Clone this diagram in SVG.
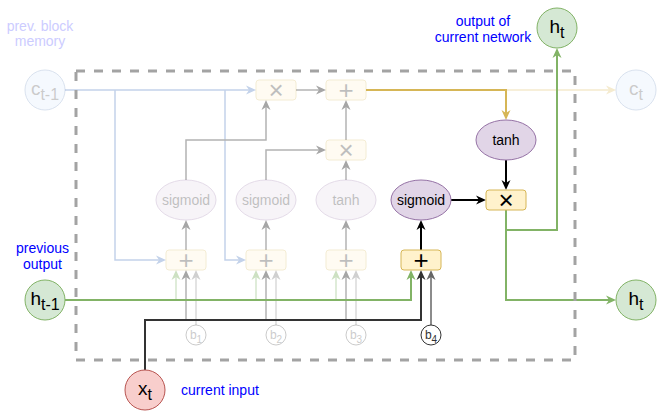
<svg xmlns="http://www.w3.org/2000/svg" width="661" height="416" viewBox="0 0 661 416">
<style>
text{font-family:"Liberation Sans",Arial,Helvetica,sans-serif}
.t14{font-size:14px}
.big{font-size:19px}
.sub{font-size:16px}
.bl{font-size:12px}
.bs{font-size:10px}
.op{font-size:26px}
.box{fill:#fff2cc;stroke:#d6b656;stroke-width:1}
.ell{fill:#e1d5e7;stroke:#9673a6;stroke-width:1}
.grn{fill:#d5e8d4;stroke:#82b366;stroke-width:1}
.blu{fill:#dae8fc;stroke:#6c8ebf;stroke-width:1}
.red{fill:#f8cecc;stroke:#b85450;stroke-width:1}
.fade{opacity:0.25}
.ln{fill:none}
</style>
<defs>
<marker id="m-black" viewBox="0 0 10 10" refX="3" refY="5" markerWidth="10" markerHeight="10" markerUnits="userSpaceOnUse" orient="auto"><path d="M0,0.5 L10,5 L0,9.5 L3,5 Z" fill="#000"/></marker>
<marker id="m-dark" viewBox="0 0 10 10" refX="3" refY="5" markerWidth="10" markerHeight="10" markerUnits="userSpaceOnUse" orient="auto"><path d="M0,0.5 L10,5 L0,9.5 L3,5 Z" fill="#333"/></marker>
<marker id="m-mid" viewBox="0 0 10 10" refX="3" refY="5" markerWidth="10" markerHeight="10" markerUnits="userSpaceOnUse" orient="auto"><path d="M0,0.5 L10,5 L0,9.5 L3,5 Z" fill="#666"/></marker>
<marker id="m-green" viewBox="0 0 10 10" refX="3" refY="5" markerWidth="10" markerHeight="10" markerUnits="userSpaceOnUse" orient="auto"><path d="M0,0.5 L10,5 L0,9.5 L3,5 Z" fill="#82b366"/></marker>
<marker id="m-fgreen" viewBox="0 0 10 10" refX="3" refY="5" markerWidth="10" markerHeight="10" markerUnits="userSpaceOnUse" orient="auto"><path d="M0,0.5 L10,5 L0,9.5 L3,5 Z" fill="#cde1c2"/></marker>
<marker id="m-gray" viewBox="0 0 10 10" refX="3" refY="5" markerWidth="10" markerHeight="10" markerUnits="userSpaceOnUse" orient="auto"><path d="M0,0.5 L10,5 L0,9.5 L3,5 Z" fill="#a6a6a6"/></marker>
<marker id="m-lgray" viewBox="0 0 10 10" refX="3" refY="5" markerWidth="10" markerHeight="10" markerUnits="userSpaceOnUse" orient="auto"><path d="M0,0.5 L10,5 L0,9.5 L3,5 Z" fill="#d0d0d0"/></marker>
<marker id="m-blue" viewBox="0 0 10 10" refX="3" refY="5" markerWidth="10" markerHeight="10" markerUnits="userSpaceOnUse" orient="auto"><path d="M0,0.5 L10,5 L0,9.5 L3,5 Z" fill="#c3d2ea"/></marker>
<marker id="m-yellow" viewBox="0 0 10 10" refX="3" refY="5" markerWidth="10" markerHeight="10" markerUnits="userSpaceOnUse" orient="auto"><path d="M0,0.5 L10,5 L0,9.5 L3,5 Z" fill="#d6b656"/></marker>
<marker id="m-fyellow" viewBox="0 0 10 10" refX="3" refY="5" markerWidth="10" markerHeight="10" markerUnits="userSpaceOnUse" orient="auto"><path d="M0,0.5 L10,5 L0,9.5 L3,5 Z" fill="#f5ebcf"/></marker>
</defs>
<rect width="661" height="416" fill="#fff"/>

<g id="connectors" class="ln">
  <g stroke="#c3d2ea" stroke-width="1.5" fill="none">
    <path d="M65,90 H249" marker-end="url(#m-blue)"/>
    <path d="M115,90 V260 H159" marker-end="url(#m-blue)"/>
    <path d="M225,90 V260 H239" marker-end="url(#m-blue)"/>
  </g>
  <g stroke="#b3b3b3" stroke-width="1.5" fill="none" marker-end="url(#m-gray)">
    <path d="M296,90 H319"/>
    <path d="M186,180 V140 H266 V107"/>
    <path d="M266,180 V150 H319"/>
    <path d="M346,180 V167"/>
    <path d="M346,140 V107"/>
    <path d="M186,250 V227"/>
    <path d="M266,250 V227"/>
    <path d="M346,250 V227"/>
    <path d="M186,320 V277"/>
    <path d="M266,320 V277"/>
    <path d="M346,320 V277"/>
  </g>
  <g stroke="#dadada" stroke-width="1.5" fill="none" marker-end="url(#m-lgray)">
    <path d="M196,325 V277"/>
    <path d="M276,325 V277"/>
    <path d="M356,325 V277"/>
  </g>
  <g stroke="#d5e6cc" stroke-width="1.5" fill="none" marker-end="url(#m-fgreen)">
    <path d="M176,300 V277"/>
    <path d="M256,300 V277"/>
    <path d="M336,300 V277"/>
  </g>
  <path d="M506,90 H609" stroke="#f7efd9" stroke-width="2" fill="none" marker-end="url(#m-fyellow)"/>
  <path d="M366,90 H506 V113" stroke="#d6b656" stroke-width="2" fill="none" marker-end="url(#m-yellow)"/>
  <path d="M506,160 V183" stroke="#000" stroke-width="2" fill="none" marker-end="url(#m-black)"/>
  <path d="M451,200 H479" stroke="#000" stroke-width="2" fill="none" marker-end="url(#m-black)"/>
  <path d="M421,250 V227" stroke="#000" stroke-width="2" fill="none" marker-end="url(#m-black)"/>
  <path d="M506,210 V230 H557 V55" stroke="#82b366" stroke-width="2" fill="none" marker-end="url(#m-green)"/>
  <path d="M506,210 V300 H609" stroke="#82b366" stroke-width="2" fill="none" marker-end="url(#m-green)"/>
  <path d="M65,300 H411 V277" stroke="#82b366" stroke-width="2" fill="none" marker-end="url(#m-green)"/>
  <path d="M145,370 V320 H421 V277" stroke="#333" stroke-width="2" fill="none" marker-end="url(#m-dark)"/>
  <path d="M431,325 V277" stroke="#666" stroke-width="1.5" fill="none" marker-end="url(#m-mid)"/>
</g>

<rect id="lstm-block" x="76" y="71" width="499" height="289" fill="none" stroke="#a3a3a3" stroke-width="3" stroke-dasharray="9 9"/>

<g id="c_prev" class="fade">
  <circle cx="45" cy="90" r="20" class="blu"/>
  <text x="45" y="95" text-anchor="middle" class="big" fill="#333">c<tspan class="sub" dy="5">t-1</tspan></text>
</g>
<g id="c_t" class="fade">
  <circle cx="636" cy="90" r="20" class="blu"/>
  <text x="636" y="95" text-anchor="middle" class="big" fill="#333">c<tspan class="sub" dy="5">t</tspan></text>
</g>
<g id="h_out_top">
  <circle cx="557" cy="28" r="20" class="grn"/>
  <text x="557" y="33" text-anchor="middle" class="big" fill="#000">h<tspan class="sub" dy="5">t</tspan></text>
</g>
<g id="h_out_right">
  <circle cx="636" cy="300" r="20" class="grn"/>
  <text x="636" y="305" text-anchor="middle" class="big" fill="#000">h<tspan class="sub" dy="5">t</tspan></text>
</g>
<g id="h_prev">
  <circle cx="45" cy="300" r="20" class="grn"/>
  <text x="45" y="305" text-anchor="middle" class="big" fill="#000">h<tspan class="sub" dy="5">t-1</tspan></text>
</g>
<g id="x_t">
  <circle cx="145" cy="390" r="20" class="red"/>
  <text x="145" y="395" text-anchor="middle" class="big" fill="#000">x<tspan class="sub" dy="5">t</tspan></text>
</g>

<g id="mul_forget" class="fade">
  <rect x="256" y="80" width="40" height="20" rx="3" class="box"/>
  <text x="276" y="99" text-anchor="middle" class="op" fill="#000">×</text>
</g>
<g id="add_cell" class="fade">
  <rect x="326" y="80" width="40" height="20" rx="3" class="box"/>
  <text x="346" y="99" text-anchor="middle" class="op" fill="#000">+</text>
</g>
<g id="mul_input" class="fade">
  <rect x="326" y="140" width="40" height="20" rx="3" class="box"/>
  <text x="346" y="159" text-anchor="middle" class="op" fill="#000">×</text>
</g>
<g id="add_1" class="fade">
  <rect x="166" y="250" width="40" height="20" rx="3" class="box"/>
  <text x="186" y="269" text-anchor="middle" class="op" fill="#000">+</text>
</g>
<g id="add_2" class="fade">
  <rect x="246" y="250" width="40" height="20" rx="3" class="box"/>
  <text x="266" y="269" text-anchor="middle" class="op" fill="#000">+</text>
</g>
<g id="add_3" class="fade">
  <rect x="326" y="250" width="40" height="20" rx="3" class="box"/>
  <text x="346" y="269" text-anchor="middle" class="op" fill="#000">+</text>
</g>
<g id="add_4">
  <rect x="401" y="250" width="40" height="20" rx="3" class="box"/>
  <text x="421" y="269" text-anchor="middle" class="op" fill="#000">+</text>
</g>
<g id="mul_out">
  <rect x="486" y="190" width="40" height="20" rx="3" class="box"/>
  <text x="506" y="209" text-anchor="middle" class="op" fill="#000">×</text>
</g>

<g id="sigmoid_1" class="fade">
  <ellipse cx="186" cy="200" rx="30" ry="20" class="ell"/>
  <text x="186" y="205" text-anchor="middle" class="t14" fill="#000">sigmoid</text>
</g>
<g id="sigmoid_2" class="fade">
  <ellipse cx="266" cy="200" rx="30" ry="20" class="ell"/>
  <text x="266" y="205" text-anchor="middle" class="t14" fill="#000">sigmoid</text>
</g>
<g id="tanh_1" class="fade">
  <ellipse cx="346" cy="200" rx="30" ry="20" class="ell"/>
  <text x="346" y="205" text-anchor="middle" class="t14" fill="#000">tanh</text>
</g>
<g id="sigmoid_4">
  <ellipse cx="421" cy="200" rx="30" ry="20" class="ell"/>
  <text x="421" y="205" text-anchor="middle" class="t14" fill="#000">sigmoid</text>
</g>
<g id="tanh_out">
  <ellipse cx="506" cy="140" rx="30" ry="20" class="ell"/>
  <text x="506" y="145" text-anchor="middle" class="t14" fill="#000">tanh</text>
</g>

<g id="b1" class="fade">
  <circle cx="196" cy="335" r="10" fill="#fff" stroke="#333"/>
  <text x="196" y="339" text-anchor="middle" class="bl" fill="#333">b<tspan class="bs" dy="4">1</tspan></text>
</g>
<g id="b2" class="fade">
  <circle cx="276" cy="335" r="10" fill="#fff" stroke="#333"/>
  <text x="276" y="339" text-anchor="middle" class="bl" fill="#333">b<tspan class="bs" dy="4">2</tspan></text>
</g>
<g id="b3" class="fade">
  <circle cx="356" cy="335" r="10" fill="#fff" stroke="#333"/>
  <text x="356" y="339" text-anchor="middle" class="bl" fill="#333">b<tspan class="bs" dy="4">3</tspan></text>
</g>
<g id="b4">
  <circle cx="431" cy="335" r="10" fill="#fff" stroke="#333"/>
  <text x="431" y="339" text-anchor="middle" class="bl" fill="#333">b<tspan class="bs" dy="4">4</tspan></text>
</g>

<g id="labels">
  <text x="40" y="31" text-anchor="middle" class="t14" fill="#ccccff">prev. block</text>
  <text x="40" y="46" text-anchor="middle" class="t14" fill="#ccccff">memory</text>
  <text x="483" y="26" text-anchor="middle" class="t14" fill="#0000ff">output of</text>
  <text x="483" y="42" text-anchor="middle" class="t14" fill="#0000ff">current network</text>
  <text x="42.5" y="253" text-anchor="middle" class="t14" fill="#0000ff">previous</text>
  <text x="42.5" y="269" text-anchor="middle" class="t14" fill="#0000ff">output</text>
  <text x="181" y="395" class="t14" fill="#0000ff">current input</text>
</g>
</svg>
